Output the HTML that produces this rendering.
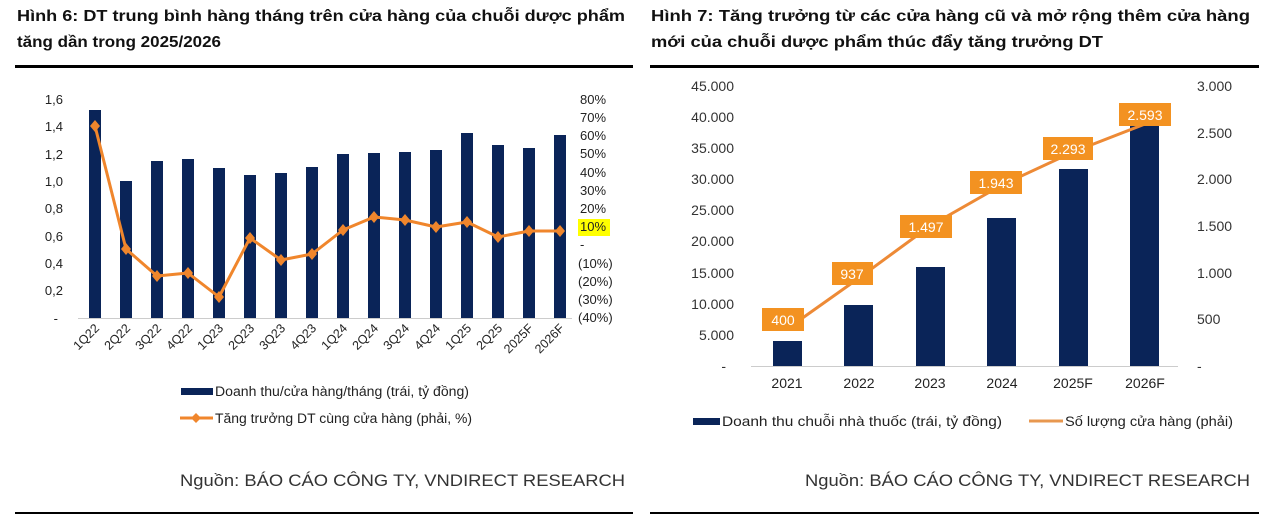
<!DOCTYPE html>
<html><head><meta charset="utf-8"><style>
html,body{margin:0;padding:0;background:#fff;}
svg{display:block;font-family:"Liberation Sans",Arial,sans-serif;}
</style></head><body>
<svg width="1267" height="522" viewBox="0 0 1267 522" xmlns="http://www.w3.org/2000/svg">
<g font-weight="bold" font-size="16" fill="#111">
<text x="17" y="21" textLength="608" lengthAdjust="spacingAndGlyphs">Hình 6: DT trung bình hàng tháng trên cửa hàng của chuỗi dược phẩm</text>
<text x="17" y="47" textLength="204" lengthAdjust="spacingAndGlyphs">tăng dần trong 2025/2026</text>
<text x="651" y="21" textLength="599" lengthAdjust="spacingAndGlyphs">Hình 7: Tăng trưởng từ các cửa hàng cũ và mở rộng thêm cửa hàng</text>
<text x="651" y="47" textLength="452" lengthAdjust="spacingAndGlyphs">mới của chuỗi dược phẩm thúc đẩy tăng trưởng DT</text>
</g>
<rect x="15" y="65" width="618" height="3" fill="#000"/>
<rect x="650" y="65" width="609" height="3" fill="#000"/>
<rect x="15" y="512" width="618" height="2" fill="#000"/>
<rect x="650" y="512" width="609" height="2" fill="#000"/>

<g font-size="13" fill="#222" text-anchor="end">
<text x="63" y="104">1,6</text><text x="63" y="131">1,4</text><text x="63" y="159">1,2</text>
<text x="63" y="186">1,0</text><text x="63" y="213">0,8</text><text x="63" y="241">0,6</text>
<text x="63" y="268">0,4</text><text x="63" y="295">0,2</text><text x="58" y="323">-</text>
</g>
<rect x="578" y="219" width="32" height="17" fill="#ffff00"/>
<g font-size="13" fill="#222">
<text x="580" y="104">80%</text><text x="580" y="122">70%</text><text x="580" y="140">60%</text>
<text x="580" y="158">50%</text><text x="580" y="177">40%</text><text x="580" y="195">30%</text>
<text x="580" y="213">20%</text><text x="580" y="231">10%</text><text x="580" y="249">-</text>
<text x="578" y="268">(10%)</text><text x="578" y="286">(20%)</text><text x="578" y="304">(30%)</text>
<text x="578" y="322">(40%)</text>
</g>
<line x1="78" y1="318.5" x2="572" y2="318.5" stroke="#ccc" stroke-width="1"/>
<g fill="#0a2458">
<rect x="89" y="110" width="12" height="208"/>
<rect x="120" y="181" width="12" height="137"/>
<rect x="151" y="161" width="12" height="157"/>
<rect x="182" y="159" width="12" height="159"/>
<rect x="213" y="168" width="12" height="150"/>
<rect x="244" y="175" width="12" height="143"/>
<rect x="275" y="173" width="12" height="145"/>
<rect x="306" y="167" width="12" height="151"/>
<rect x="337" y="154" width="12" height="164"/>
<rect x="368" y="153" width="12" height="165"/>
<rect x="399" y="152" width="12" height="166"/>
<rect x="430" y="150" width="12" height="168"/>
<rect x="461" y="133" width="12" height="185"/>
<rect x="492" y="145" width="12" height="173"/>
<rect x="523" y="148" width="12" height="170"/>
<rect x="554" y="135" width="12" height="183"/>
</g>
<polyline fill="none" stroke="#f0862c" stroke-width="3" stroke-linejoin="round" points="95,126 126,249 157,276 188,273 219,297 250,238 281,260 312,254 343,230 374,217 405,220 436,227 467,222 498,237 529,231 560,231"/>
<g fill="#f0862c">
<path d="M95 120l5 6-5 6-5-6z"/><path d="M126 243l5 6-5 6-5-6z"/><path d="M157 270l5 6-5 6-5-6z"/><path d="M188 267l5 6-5 6-5-6z"/>
<path d="M219 291l5 6-5 6-5-6z"/><path d="M250 232l5 6-5 6-5-6z"/><path d="M281 254l5 6-5 6-5-6z"/><path d="M312 248l5 6-5 6-5-6z"/>
<path d="M343 224l5 6-5 6-5-6z"/><path d="M374 211l5 6-5 6-5-6z"/><path d="M405 214l5 6-5 6-5-6z"/><path d="M436 221l5 6-5 6-5-6z"/>
<path d="M467 216l5 6-5 6-5-6z"/><path d="M498 231l5 6-5 6-5-6z"/><path d="M529 225l5 6-5 6-5-6z"/><path d="M560 225l5 6-5 6-5-6z"/>
</g>
<g font-size="12.5" fill="#222" text-anchor="end">
<text transform="translate(100,329) rotate(-45)">1Q22</text>
<text transform="translate(131,329) rotate(-45)">2Q22</text>
<text transform="translate(162,329) rotate(-45)">3Q22</text>
<text transform="translate(193,329) rotate(-45)">4Q22</text>
<text transform="translate(224,329) rotate(-45)">1Q23</text>
<text transform="translate(255,329) rotate(-45)">2Q23</text>
<text transform="translate(286,329) rotate(-45)">3Q23</text>
<text transform="translate(317,329) rotate(-45)">4Q23</text>
<text transform="translate(348,329) rotate(-45)">1Q24</text>
<text transform="translate(379,329) rotate(-45)">2Q24</text>
<text transform="translate(410,329) rotate(-45)">3Q24</text>
<text transform="translate(441,329) rotate(-45)">4Q24</text>
<text transform="translate(472,329) rotate(-45)">1Q25</text>
<text transform="translate(503,329) rotate(-45)">2Q25</text>
<text transform="translate(534,329) rotate(-45)">2025F</text>
<text transform="translate(565,329) rotate(-45)">2026F</text>
</g>
<rect x="181" y="388" width="32" height="7" fill="#0a2458"/>
<text x="215" y="396" font-size="13.5" fill="#222" textLength="254" lengthAdjust="spacingAndGlyphs">Doanh thu/cửa hàng/tháng (trái, tỷ đồng)</text>
<line x1="180" y1="418" x2="213" y2="418" stroke="#f0862c" stroke-width="3"/>
<path d="M196 413l5 5-5 5-5-5z" fill="#f0862c"/>
<text x="215" y="423" font-size="13.5" fill="#222" textLength="257" lengthAdjust="spacingAndGlyphs">Tăng trưởng DT cùng cửa hàng (phải, %)</text>
<text x="180" y="486" font-size="17" fill="#333" textLength="445" lengthAdjust="spacingAndGlyphs">Nguồn: BÁO CÁO CÔNG TY, VNDIRECT RESEARCH</text>

<g font-size="14" fill="#333" text-anchor="end">
<text x="734" y="91">45.000</text><text x="734" y="122">40.000</text><text x="734" y="153">35.000</text>
<text x="734" y="184">30.000</text><text x="734" y="215">25.000</text><text x="734" y="246">20.000</text>
<text x="734" y="278">15.000</text><text x="734" y="309">10.000</text><text x="734" y="340">5.000</text>
<text x="726" y="371">-</text>
</g>
<g font-size="14" fill="#333">
<text x="1197" y="91">3.000</text><text x="1197" y="138">2.500</text><text x="1197" y="184">2.000</text>
<text x="1197" y="231">1.500</text><text x="1197" y="278">1.000</text><text x="1197" y="324">500</text>
<text x="1197" y="371">-</text>
</g>
<line x1="751" y1="366.5" x2="1178" y2="366.5" stroke="#ccc" stroke-width="1"/>
<g fill="#0a2458">
<rect x="773" y="341" width="29" height="25"/>
<rect x="844" y="305" width="29" height="61"/>
<rect x="916" y="267" width="29" height="99"/>
<rect x="987" y="218" width="29" height="148"/>
<rect x="1059" y="169" width="29" height="197"/>
<rect x="1130" y="123" width="29" height="243"/>
</g>
<polyline fill="none" stroke="#ed8a36" stroke-width="3" points="787,329 859,278 930,226 1002,185 1073,152 1145,124"/>
<g fill="#f39221">
<rect x="762" y="308" width="42" height="23"/>
<rect x="832" y="262" width="41" height="23"/>
<rect x="900" y="215" width="52" height="23"/>
<rect x="970" y="171" width="52" height="23"/>
<rect x="1043" y="137" width="50" height="23"/>
<rect x="1119" y="103" width="52" height="23"/>
</g>
<g font-size="14" fill="#fff" text-anchor="middle">
<text x="783" y="325">400</text><text x="852" y="279">937</text><text x="926" y="232">1.497</text>
<text x="996" y="188">1.943</text><text x="1068" y="154">2.293</text><text x="1145" y="120">2.593</text>
</g>
<g font-size="14" fill="#222" text-anchor="middle">
<text x="787" y="388">2021</text><text x="859" y="388">2022</text><text x="930" y="388">2023</text>
<text x="1002" y="388">2024</text><text x="1073" y="388">2025F</text><text x="1145" y="388">2026F</text>
</g>
<rect x="693" y="418" width="27" height="7" fill="#0a2458"/>
<text x="722" y="426" font-size="14" fill="#222" textLength="280" lengthAdjust="spacingAndGlyphs">Doanh thu chuỗi nhà thuốc (trái, tỷ đồng)</text>
<line x1="1029" y1="421" x2="1063" y2="421" stroke="#e89850" stroke-width="3"/>
<text x="1065" y="426" font-size="14" fill="#222" textLength="168" lengthAdjust="spacingAndGlyphs">Số lượng cửa hàng (phải)</text>
<text x="805" y="486" font-size="17" fill="#333" textLength="445" lengthAdjust="spacingAndGlyphs">Nguồn: BÁO CÁO CÔNG TY, VNDIRECT RESEARCH</text>
</svg>
</body></html>
